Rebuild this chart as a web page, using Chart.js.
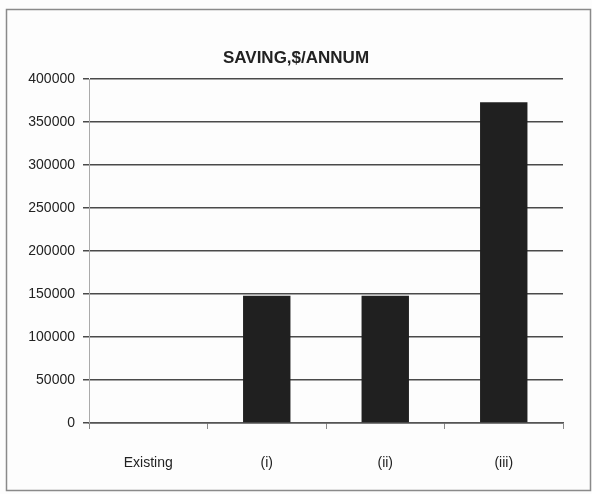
<!DOCTYPE html>
<html>
<head>
<meta charset="utf-8">
<script src="https://cdn.jsdelivr.net/npm/chart.js@4"></script>
<style>
  html, body { margin: 0; padding: 0; background: #ffffff; }
  #wrap { width: 592px; height: 494px; }
</style>
</head>
<body>
<div id="wrap"><canvas id="c" width="592" height="494"></canvas></div>
<script>
const categories = ['Existing', '(i)', '(ii)', '(iii)'];
const savings = [0, 148000, 148000, 373000];
const yTicks = [0, 50000, 100000, 150000, 200000, 250000, 300000, 350000, 400000];
const chartTitle = 'SAVING,$/ANNUM';

const FONT = "'Liberation Sans', Arial, sans-serif";

// Frame around the whole chart plus the centred heading
const framePlugin = {
  id: 'frame',
  beforeDraw(chart) {
    const ctx = chart.ctx;
    ctx.save();
    ctx.fillStyle = '#fdfdfd';
    ctx.fillRect(0, 0, chart.width, chart.height);
    ctx.strokeStyle = '#8a8a8a';
    ctx.lineWidth = 1.5;
    ctx.strokeRect(6.5, 9.5, 584, 481);
    ctx.restore();
  },
  afterDraw(chart) {
    const ctx = chart.ctx;
    ctx.save();
    ctx.fillStyle = '#222';
    ctx.font = "bold 17px " + FONT;
    ctx.textAlign = 'center';
    ctx.textBaseline = 'middle';
    ctx.fillText(chartTitle, 296, 58);
    ctx.restore();
  }
};

new Chart(document.getElementById('c'), {
  type: 'bar',
  data: {
    labels: categories,
    datasets: [{
      data: savings,
      backgroundColor: '#202020',
      borderWidth: 0,
      barPercentage: 0.4,
      categoryPercentage: 1.0
    }]
  },
  options: {
    responsive: false,
    animation: false,
    devicePixelRatio: 1,
    layout: { padding: { top: 79, right: 29, left: 0, bottom: 0 } },
    plugins: {
      legend: { display: false },
      title: { display: false },
      tooltip: { enabled: false }
    },
    scales: {
      x: {
        offset: true,
        grid: {
          display: true,
          offset: true,
          drawOnChartArea: false,
          drawTicks: true,
          tickLength: 6,
          color: '#888',
          lineWidth: 1
        },
        border: { display: true, color: '#555', width: 1.5 },
        ticks: {
          color: '#222',
          font: { family: FONT, size: 14 },
          padding: 26
        },
        afterFit(scale) { scale.height = 71; }
      },
      y: {
        min: 0,
        max: 400000,
        afterBuildTicks(scale) { scale.ticks = yTicks.map(v => ({ value: v })); },
        grid: {
          color: '#4a4a4a',
          lineWidth: 1.5,
          drawTicks: true,
          tickLength: 6
        },
        border: { display: true, color: '#aaa', width: 1 },
        ticks: {
          color: '#222',
          font: { family: FONT, size: 14 },
          padding: 8,
          callback: v => String(v)
        },
        afterFit(scale) { scale.width = 89; }
      }
    }
  },
  plugins: [framePlugin]
});
</script>
</body>
</html>
